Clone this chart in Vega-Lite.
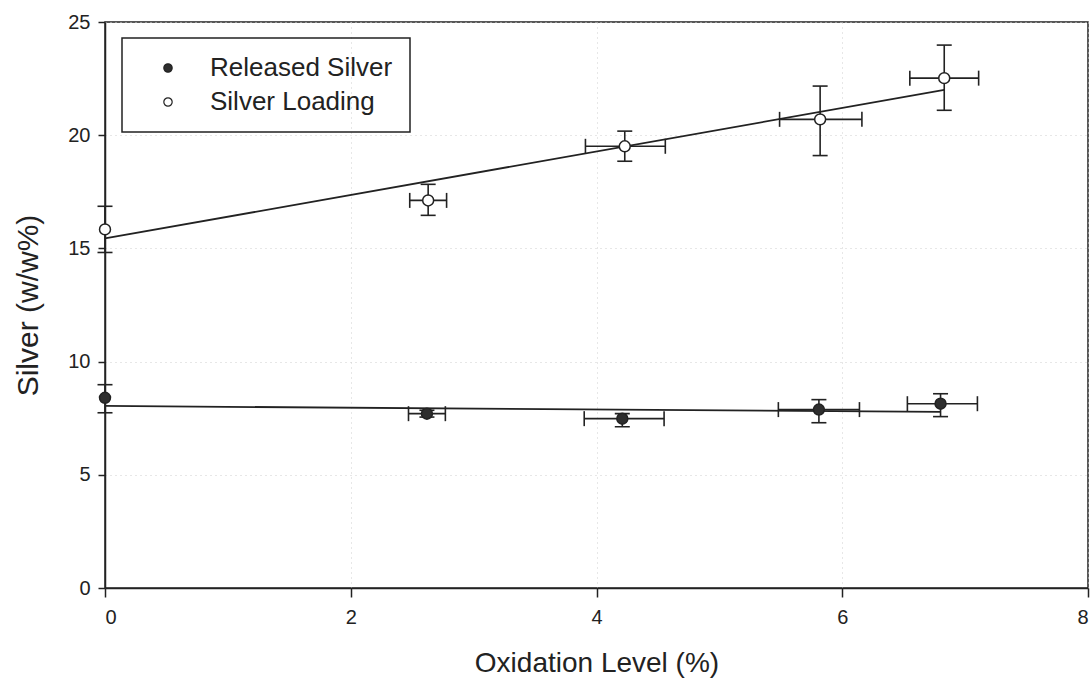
{
  "$schema": "https://vega.github.io/schema/vega-lite/v6.json",
  "width": 983,
  "height": 566,
  "autosize": {"type": "none"},
  "padding": {"left": 105, "top": 22, "right": 2, "bottom": 97},
  "background": "white",
  "config": {
    "font": "Liberation Sans",
    "view": {"stroke": "#222", "strokeWidth": 1.5},
    "axis": {
      "domainColor": "#222",
      "domainWidth": 1.5,
      "tickColor": "#222",
      "tickWidth": 1.5,
      "labelColor": "#222",
      "titleColor": "#222",
      "labelFont": "Liberation Sans",
      "titleFont": "Liberation Sans",
      "titleFontWeight": "normal",
      "gridColor": "#cfcfcf",
      "gridDash": [1, 4],
      "gridWidth": 1
    },
    "legend": {
      "orient": "none",
      "legendX": 17,
      "legendY": 16,
      "strokeColor": "#222",
      "strokeWidth": 1.5,
      "padding": 17,
      "labelFont": "Liberation Sans",
      "labelFontSize": 26,
      "labelColor": "#222",
      "labelLimit": 0,
      "symbolSize": 70,
      "symbolType": "circle",
      "symbolStrokeColor": "#222",
      "symbolStrokeWidth": 1.2,
      "symbolOffset": 16,
      "labelOffset": 29,
      "rowPadding": 8
    }
  },
  "datasets": {
    "pts": [
      {"series": "Released Silver", "x": 0, "y": 8.4, "ylo": 7.74, "yhi": 8.98, "xlo": null, "xhi": null},
      {"series": "Released Silver", "x": 2.62, "y": 7.7, "ylo": 7.55, "yhi": 7.85, "xlo": 2.47, "xhi": 2.77},
      {"series": "Released Silver", "x": 4.21, "y": 7.48, "ylo": 7.12, "yhi": 7.7, "xlo": 3.9, "xhi": 4.55},
      {"series": "Released Silver", "x": 5.81, "y": 7.88, "ylo": 7.3, "yhi": 8.32, "xlo": 5.48, "xhi": 6.14},
      {"series": "Released Silver", "x": 6.8, "y": 8.14, "ylo": 7.57, "yhi": 8.58, "xlo": 6.53, "xhi": 7.1},
      {"series": "Silver Loading", "x": 0, "y": 15.84, "ylo": 14.82, "yhi": 16.86, "xlo": null, "xhi": null},
      {"series": "Silver Loading", "x": 2.63, "y": 17.12, "ylo": 16.46, "yhi": 17.83, "xlo": 2.48, "xhi": 2.78},
      {"series": "Silver Loading", "x": 4.23, "y": 19.51, "ylo": 18.85, "yhi": 20.18, "xlo": 3.91, "xhi": 4.56},
      {"series": "Silver Loading", "x": 5.82, "y": 20.7, "ylo": 19.1, "yhi": 22.17, "xlo": 5.49, "xhi": 6.16},
      {"series": "Silver Loading", "x": 6.83, "y": 22.52, "ylo": 21.1, "yhi": 23.98, "xlo": 6.55, "xhi": 7.11}
    ],
    "fit": [
      {"series": "Released Silver", "x": 0, "y": 8.04},
      {"series": "Released Silver", "x": 6.8, "y": 7.78},
      {"series": "Silver Loading", "x": 0, "y": 15.44},
      {"series": "Silver Loading", "x": 6.83, "y": 22.0}
    ]
  },
  "encoding": {
    "x": {
      "field": "x",
      "type": "quantitative",
      "scale": {"domain": [0, 8], "nice": false, "zero": false},
      "axis": {
        "title": "Oxidation Level (%)",
        "values": [0, 2, 4, 6, 8],
        "format": "d",
        "tickSize": 9,
        "labelFontSize": 20,
        "labelPadding": 10,
        "titleFontSize": 28,
        "titlePadding": 22,
        "grid": true
      }
    },
    "y": {
      "field": "y",
      "type": "quantitative",
      "scale": {"domain": [0, 25], "nice": false},
      "axis": {
        "title": "Silver  (w/w%)",
        "values": [0, 5, 10, 15, 20, 25],
        "tickSize": 7,
        "labelFontSize": 20,
        "labelPadding": 8,
        "titleFontSize": 30,
        "titlePadding": 24,
        "grid": true
      }
    }
  },
  "layer": [
    {
      "data": {"name": "fit"},
      "mark": {"type": "line", "color": "#222", "strokeWidth": 1.8},
      "encoding": {"detail": {"field": "series"}}
    },
    {
      "data": {"name": "pts"},
      "transform": [{"filter": "isValid(datum.xlo)"}],
      "mark": {"type": "rule", "color": "#222", "strokeWidth": 1.6},
      "encoding": {
        "x": {"field": "xlo", "type": "quantitative"},
        "x2": {"field": "xhi"}
      }
    },
    {
      "data": {"name": "pts"},
      "transform": [{"filter": "isValid(datum.xlo)"}],
      "mark": {"type": "tick", "orient": "vertical", "color": "#222", "size": 15, "thickness": 1.6, "opacity": 1},
      "encoding": {"x": {"field": "xlo", "type": "quantitative"}}
    },
    {
      "data": {"name": "pts"},
      "transform": [{"filter": "isValid(datum.xlo)"}],
      "mark": {"type": "tick", "orient": "vertical", "color": "#222", "size": 15, "thickness": 1.6, "opacity": 1},
      "encoding": {"x": {"field": "xhi", "type": "quantitative"}}
    },
    {
      "data": {"name": "pts"},
      "mark": {"type": "rule", "color": "#222", "strokeWidth": 1.6},
      "encoding": {
        "y": {"field": "ylo", "type": "quantitative"},
        "y2": {"field": "yhi"}
      }
    },
    {
      "data": {"name": "pts"},
      "mark": {"type": "tick", "orient": "horizontal", "color": "#222", "size": 15, "thickness": 1.6, "opacity": 1},
      "encoding": {"y": {"field": "ylo", "type": "quantitative"}}
    },
    {
      "data": {"name": "pts"},
      "mark": {"type": "tick", "orient": "horizontal", "color": "#222", "size": 15, "thickness": 1.6, "opacity": 1},
      "encoding": {"y": {"field": "yhi", "type": "quantitative"}}
    },
    {
      "data": {"name": "pts"},
      "mark": {"type": "point", "filled": true, "size": 120, "stroke": "#222", "strokeWidth": 1.5, "opacity": 1},
      "encoding": {
        "fill": {
          "field": "series",
          "type": "nominal",
          "scale": {"domain": ["Released Silver", "Silver Loading"], "range": ["#2e2e2e", "#ffffff"]},
          "legend": {"title": null}
        }
      }
    }
  ]
}
